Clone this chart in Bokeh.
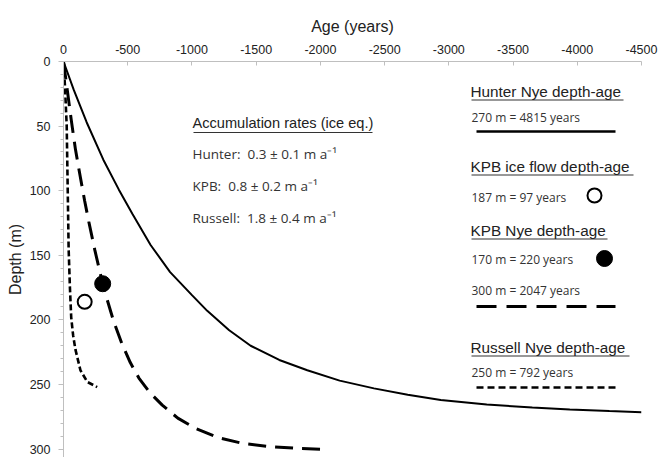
from bokeh.plotting import figure
from bokeh.models import Range1d, FixedTicker, Label
from bokeh.embed import file_html
from bokeh.resources import INLINE

# ---------------- data ----------------
x_ticks = [0, -500, -1000, -1500, -2000, -2500, -3000, -3500, -4000, -4500]
x_tick_labels = ["0", "-500", "-1000", "-1500", "-2000", "-2500", "-3000", "-3500", "-4000", "-4500"]
y_ticks = [0, 50, 100, 150, 200, 250, 300]
y_tick_labels = ["0", "50", "100", "150", "200", "250", "300"]
y_minor = [0, 10, 20, 30, 40, 50, 60, 70, 80, 90, 100, 110, 120, 130, 140, 150, 160, 170, 180,
           190, 200, 210, 220, 230, 240, 250, 260, 270, 280, 290, 300]

hunter_age = [0, -80, -180, -310, -430, -537, -678, -830, -1002, -1119, -1290, -1457, -1680,
              -1898, -2150, -2417, -2680, -2937, -3295, -3650, -3942, -4250, -4500]
hunter_depth = [0, 22, 47, 76, 99, 118, 142, 163, 181, 193, 208, 220, 231,
                239, 247, 253, 258, 262, 265.5, 267.8, 269.3, 270.6, 271.5]

kpb_age = [0, -28, -60, -93, -132, -165, -197, -244, -300, -330, -390, -457, -520, -587, -670,
           -769, -890, -1028, -1200, -1392, -1600, -1831, -2047]
kpb_depth = [0, 21, 45, 68, 90, 108, 124, 146, 170, 181, 201, 219, 233, 245, 256,
             266, 276, 284, 291, 295.5, 298, 299.5, 300.3]

russell_age = [0, -12, -25, -33, -40, -50, -60, -75, -93, -132, -185, -262]
russell_depth = [0, 20, 50, 100, 145, 175, 198, 212, 223, 239, 248, 252]

iceflow_age = [-165]
iceflow_depth = [186]
kpbnye_age = [-305]
kpbnye_depth = [172]

legend_titles = ["Hunter Nye depth-age", "KPB ice flow depth-age", "KPB Nye depth-age", "Russell Nye depth-age"]
legend_notes = ["270 m = 4815 years", "187 m = 97 years", "170 m = 220 years", "300 m = 2047 years", "250 m = 792 years"]
acc_title = "Accumulation rates (ice eq.)"
acc_lines = ["Hunter:\u00a0 0.3 \u00b1 0.1 m a\u207b\u00b9", "KPB:\u00a0 0.8 \u00b1 0.2 m a\u207b\u00b9",
             "Russell:\u00a0 1.8 \u00b1 0.4 m a\u207b\u00b9"]

# ---------------- layout helpers (page pixel -> data) ----------------
W, H = 672, 457
X0, X1, Y0, Y1 = 63.0, 641.0, 61.0, 457.0
XMIN, XMAX, YMIN, YMAX = 0.0, -4500.0, 0.0, 306.5


def px(xp):
    return XMIN + (xp - X0) / (X1 - X0) * (XMAX - XMIN)


def py(yp):
    return YMIN + (yp - Y0) / (Y1 - Y0) * (YMAX - YMIN)


ARIAL = "Liberation Sans"
CAL = "Open Sans"
INK = "#222222"

p = figure(width=W, height=H, x_axis_location="above",
           x_range=Range1d(XMIN, XMAX), y_range=Range1d(YMAX, YMIN),
           output_backend="svg", toolbar_location=None,
           min_border_left=int(X0), min_border_top=int(Y0), min_border_right=int(W - X1),
           min_border_bottom=0)
p.outline_line_color = None
p.xgrid.visible = False
p.ygrid.visible = False
p.background_fill_color = "white"
p.border_fill_color = "white"

xa = p.xaxis[0]
xa.ticker = FixedTicker(ticks=x_ticks)
xa.major_label_overrides = {t: l for t, l in zip(x_ticks, x_tick_labels)}
xa.axis_label = "Age (years)"
xa.major_tick_in = 4
xa.major_tick_out = 0
xa.major_label_standoff = 8
xa.axis_label_standoff = 7

ya = p.yaxis[0]
ya.ticker = FixedTicker(ticks=y_ticks, minor_ticks=y_minor)
ya.major_label_overrides = {t: l for t, l in zip(y_ticks, y_tick_labels)}
ya.axis_label = "Depth (m)"
ya.major_tick_in = 0
ya.major_tick_out = 5
ya.minor_tick_in = 0
ya.minor_tick_out = 3
ya.major_label_standoff = 8
ya.axis_label_standoff = 3

for a in (xa, ya):
    a.axis_line_color = "#bfbfbf"
    a.major_tick_line_color = "#bfbfbf"
    a.major_label_text_font = ARIAL
    a.major_label_text_font_size = "12.5px"
    a.major_label_text_color = INK
    a.axis_label_text_font = ARIAL
    a.axis_label_text_font_size = "16px"
    a.axis_label_text_font_style = "normal"
    a.axis_label_text_color = INK
ya.minor_tick_line_color = "#bfbfbf"
xa.minor_tick_line_color = None

# ---------------- curves ----------------
p.line(hunter_age, hunter_depth, line_color="black", line_width=2)
p.line(kpb_age, kpb_depth, line_color="black", line_width=3, line_dash="18 9")
p.line(russell_age, russell_depth, line_color="black", line_width=2.6, line_dash="6 3")
p.scatter(iceflow_age, iceflow_depth, size=14, marker="circle", fill_color="white",
          line_color="black", line_width=2)
p.scatter(kpbnye_age, kpbnye_depth, size=16, marker="circle", fill_color="black",
          line_color="black")


def label(text, xp, yp, font, size, color=INK):
    p.add_layout(Label(x=px(xp), y=py(yp), text=text, text_font=font, text_font_size=size,
                       text_color=color, text_baseline="middle", text_align="left"))


def hline(x0p, x1p, yp, width, dash="solid", color="black"):
    p.line([px(x0p), px(x1p)], [py(yp), py(yp)], line_color=color, line_width=width, line_dash=dash)


# accumulation box
label(acc_title, 192, 122, ARIAL, "14.6px")
hline(193, 372, 132, 1.2, color="#333333")
for txt, yp in zip(acc_lines, [153, 185, 217]):
    label(txt, 192, yp, CAL, "13.5px", "#333333")

# legend panel
title_y = [91, 166, 230, 347]
title_end = [623, 633, 607, 629]
for t, yp, xe in zip(legend_titles, title_y, title_end):
    label(t, 470, yp, ARIAL, "15.3px")
    hline(471, xe, yp + 8.5, 1.2, color="#333333")

note_y = [117, 197, 259, 290, 372]
for t, yp in zip(legend_notes, note_y):
    label(t, 471, yp, CAL, "12px", "#333333")

hline(476, 615, 131, 2.6)
hline(476, 615, 306, 3, dash="20 10")
hline(476, 615, 387, 2.6, dash="7 4")
p.scatter([px(594)], [py(195)], size=14, marker="circle", fill_color="white", line_color="black", line_width=2)
p.scatter([px(604)], [py(258)], size=16, marker="circle", fill_color="black", line_color="black")

open("out.html", "w").write(file_html(p, INLINE))
